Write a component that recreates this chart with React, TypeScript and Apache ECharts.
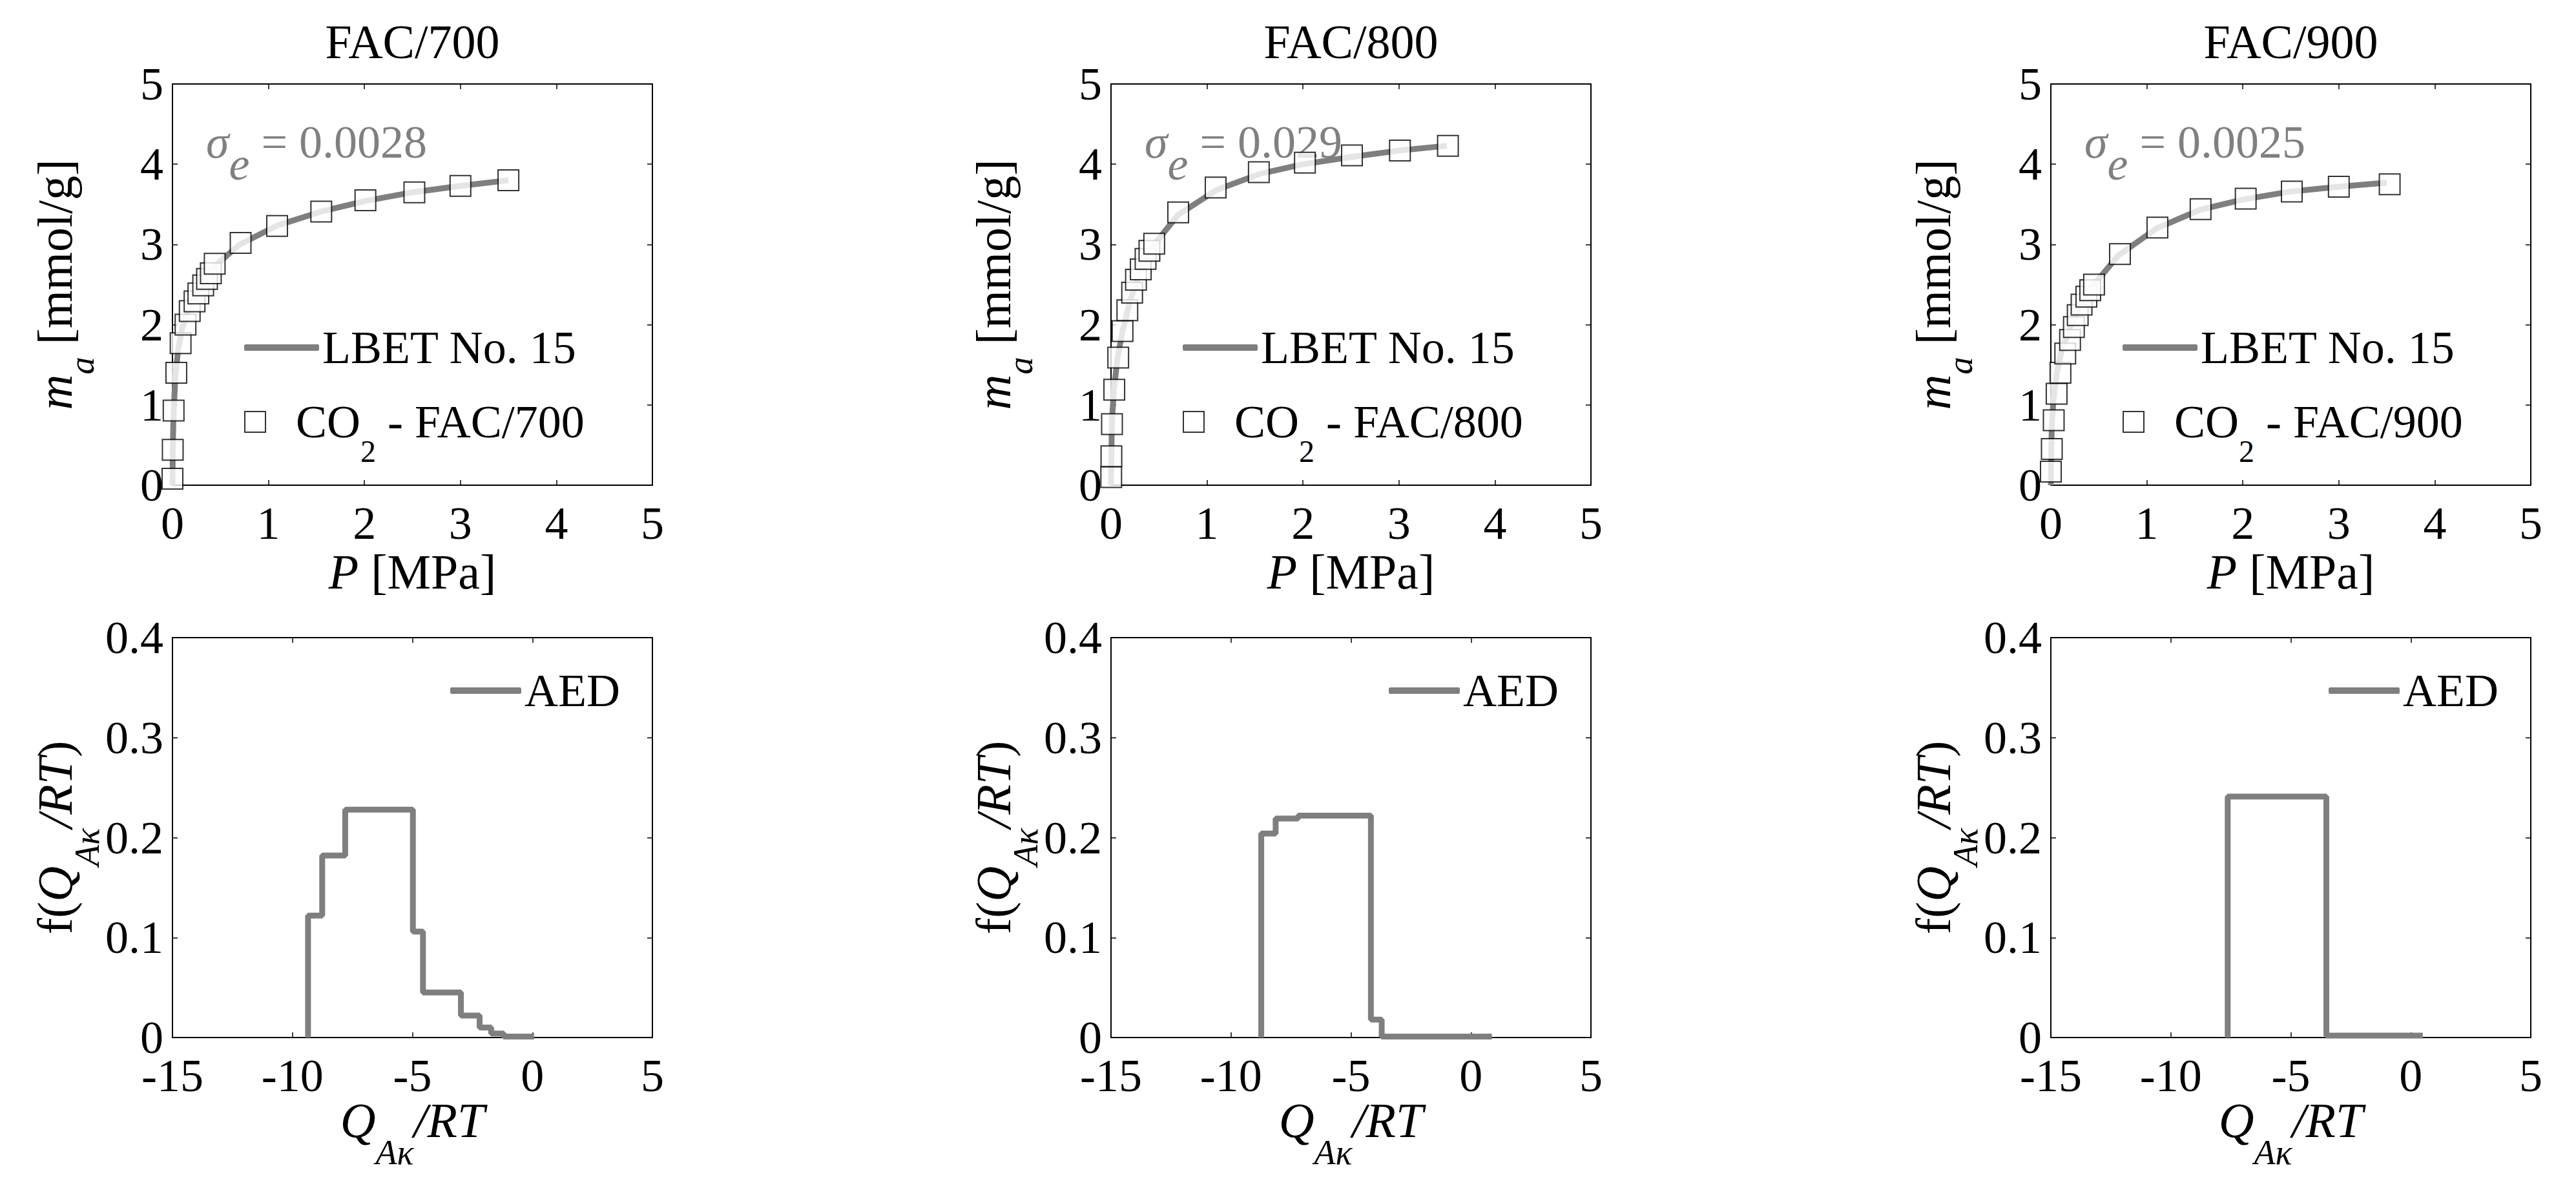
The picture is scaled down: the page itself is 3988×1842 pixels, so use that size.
import { useEffect, useRef } from 'react';
import * as echarts from 'echarts';

const FONT = "'Liberation Serif', 'DejaVu Serif', serif";
const GRAY = '#7f7f7f';
const TEXT_GRAY = '#808080';

// sample names and fit errors
const samples = ['FAC/700', 'FAC/800', 'FAC/900'];
const sigmaLabels = ['0.0028', '0.029', '0.0025'];

// measured CO2 uptake, P [MPa] vs m_a [mmol/g]
const p700 = [0.0, 0.003, 0.012, 0.04, 0.085, 0.136, 0.18, 0.23, 0.27, 0.32, 0.36, 0.4, 0.44, 0.71, 1.09, 1.55, 2.01, 2.52, 3.0, 3.5];
const m700 = [0.08, 0.44, 0.93, 1.4, 1.77, 2.0, 2.17, 2.29, 2.39, 2.49, 2.57, 2.64, 2.76, 3.02, 3.23, 3.41, 3.55, 3.65, 3.73, 3.8];
const p800 = [0.002, 0.004, 0.01, 0.034, 0.075, 0.12, 0.17, 0.22, 0.26, 0.31, 0.36, 0.4, 0.45, 0.7, 1.09, 1.54, 2.02, 2.51, 3.01, 3.51];
const m800 = [0.1, 0.36, 0.76, 1.19, 1.59, 1.92, 2.18, 2.4, 2.56, 2.69, 2.82, 2.92, 3.01, 3.4, 3.71, 3.9, 4.02, 4.11, 4.17, 4.23];
const p900 = [0.0, 0.01, 0.03, 0.06, 0.1, 0.15, 0.2, 0.24, 0.28, 0.32, 0.37, 0.41, 0.45, 0.72, 1.11, 1.56, 2.03, 2.51, 3.0, 3.53];
const m900 = [0.17, 0.45, 0.81, 1.14, 1.4, 1.64, 1.81, 1.97, 2.12, 2.25, 2.35, 2.43, 2.5, 2.88, 3.21, 3.44, 3.57, 3.66, 3.72, 3.75];

// LBET No. 15 fitted curves
const fitP700 = [0, 0.003, 0.01, 0.03, 0.06, 0.1, 0.15, 0.2, 0.3, 0.45, 0.7, 1.1, 1.55, 2.0, 2.5, 3.0, 3.5];
const fitM700 = [0, 0.4, 0.85, 1.35, 1.7, 1.95, 2.13, 2.27, 2.47, 2.74, 3.0, 3.24, 3.41, 3.54, 3.65, 3.73, 3.8];
const fitP800 = [0, 0.003, 0.01, 0.03, 0.07, 0.12, 0.2, 0.3, 0.45, 0.7, 1.1, 1.55, 2.0, 2.5, 3.0, 3.5];
const fitM800 = [0, 0.35, 0.8, 1.2, 1.6, 1.92, 2.3, 2.65, 3.0, 3.37, 3.68, 3.88, 4.0, 4.09, 4.17, 4.23];
const fitP900 = [0, 0.003, 0.01, 0.03, 0.06, 0.1, 0.15, 0.2, 0.3, 0.45, 0.7, 1.1, 1.55, 2.0, 2.5, 3.0, 3.5];
const fitM900 = [0, 0.35, 0.75, 1.1, 1.38, 1.62, 1.8, 1.96, 2.22, 2.5, 2.86, 3.2, 3.43, 3.56, 3.66, 3.72, 3.77];

// adsorption energy distributions: bin edges (Q/RT) and heights
const aedEdges700 = [-9.35, -8.76, -7.8, -4.98, -4.56, -2.98, -2.2, -1.72, -1.2, 0.07];
const aedHeights700 = [0.122, 0.182, 0.228, 0.106, 0.045, 0.022, 0.01, 0.004, 0.001];
const aedEdges800 = [-8.74, -8.14, -7.2, -4.17, -3.72, 0.87];
const aedHeights800 = [0.204, 0.219, 0.222, 0.018, 0.001];
const aedEdges900 = [-7.63, -3.52, 0.5];
const aedHeights900 = [0.241, 0.002];

// axis ticks
const pTicks = [0, 1, 2, 3, 4, 5];
const mTicks = [0, 1, 2, 3, 4, 5];
const qTicks = [-15, -10, -5, 0, 5];
const fTicks = [0, 0.1, 0.2, 0.3, 0.4];

const measured = [
  [p700, m700],
  [p800, m800],
  [p900, m900],
];
const fits = [
  [fitP700, fitM700],
  [fitP800, fitM800],
  [fitP900, fitM900],
];
const aeds = [
  [aedEdges700, aedHeights700],
  [aedEdges800, aedHeights800],
  [aedEdges900, aedHeights900],
];

const gridLefts = [267, 1720, 3175];
const gridWidth = 743;
const SQUARE = 'path://M0 0H10V10H0Z';

const zip = (xs: number[], ys: number[]) => xs.map((x, i) => [x, ys[i]]);

// corners for a step: 'end' line drawn over histogram bins
const stepPoints = (edges: number[], heights: number[]) => {
  const pts: number[][] = [[edges[0], 0]];
  heights.forEach((h, i) => pts.push([edges[i], h]));
  pts.push([edges[edges.length - 1], heights[heights.length - 1]]);
  return pts;
};

const ticksRange = (t: number[]) => ({ min: t[0], max: t[t.length - 1], interval: t[1] - t[0] });

const frameAxis = (gridIndex: number, position: string, ticks: number[]) => ({
  type: 'value',
  gridIndex,
  position,
  ...ticksRange(ticks),
  axisLine: { show: true, onZero: false, lineStyle: { color: '#000', width: 2 } },
  axisTick: { show: true, inside: true, length: 8, lineStyle: { color: '#000', width: 1.5 } },
  axisLabel: { show: false },
  splitLine: { show: false },
});

const labelStyle = (margin: number) => ({
  show: true,
  fontSize: 72,
  lineHeight: 56,
  fontFamily: FONT,
  color: '#000',
  margin,
});

// subscripts are pushed down by top padding
const nameStyle = (shift: number) => ({
  fontSize: 76,
  lineHeight: 76,
  fontFamily: FONT,
  color: '#000',
  rich: {
    i: { fontSize: 76, lineHeight: 76, fontFamily: FONT, fontStyle: 'italic', color: '#000' },
    n: { fontSize: 76, lineHeight: 76, fontFamily: FONT, color: '#000' },
    s: {
      fontSize: 54,
      lineHeight: 76,
      fontFamily: FONT,
      fontStyle: 'italic',
      color: '#000',
      padding: [shift, 0, 0, 0],
    },
  },
});

const axisName = (name: string, gap: number, shift: number) => ({
  name,
  nameLocation: 'middle',
  nameGap: gap,
  nameMoveOverlap: false,
  nameTextStyle: nameStyle(shift),
});

const legendText = {
  fontSize: 72,
  lineHeight: 72,
  fontFamily: FONT,
  color: '#000',
  rich: {
    n: { fontSize: 72, lineHeight: 72, fontFamily: FONT, color: '#000' },
    s: { fontSize: 48, lineHeight: 72, fontFamily: FONT, color: '#000', padding: [90, 0, 0, 0] },
  },
};

export default function App() {
  const chartRef = useRef<HTMLDivElement>(null);

  useEffect(() => {
    if (!chartRef.current) return;
    const chart = echarts.init(chartRef.current, undefined, { renderer: 'svg' });

    const grids: any[] = [];
    const xAxes: any[] = [];
    const yAxes: any[] = [];
    const series: any[] = [];
    const legends: any[] = [];

    samples.forEach((sample, i) => {
      // isotherm panel
      const g = grids.length;
      grids.push({ left: gridLefts[i], top: 130, width: gridWidth, height: 621, outerBoundsMode: 'none' });
      xAxes.push({
        ...frameAxis(g, 'bottom', pTicks),
        axisLabel: labelStyle(31),
        ...axisName('{i|P} [MPa]', 96, 0),
      });
      xAxes.push(frameAxis(g, 'top', pTicks));
      yAxes.push({
        ...frameAxis(g, 'left', mTicks),
        axisLabel: labelStyle(14),
        ...axisName('{i|m}{s|a} [mmol/g]', 144, 84),
      });
      yAxes.push(frameAxis(g, 'right', mTicks));

      const co2Name = `CO2 - ${sample}`;
      series.push({
        name: 'LBET No. 15',
        type: 'line',
        xAxisIndex: 2 * g,
        yAxisIndex: 2 * g,
        symbol: 'none',
        lineStyle: { color: GRAY, width: 9 },
        itemStyle: { color: GRAY },
        z: 2,
        data: zip(fits[i][0], fits[i][1]),
      });
      series.push({
        name: co2Name,
        type: 'scatter',
        xAxisIndex: 2 * g,
        yAxisIndex: 2 * g,
        symbol: 'rect',
        symbolSize: 32,
        itemStyle: { color: '#fff', borderColor: '#000', borderWidth: 2 },
        z: 3,
        data: zip(measured[i][0], measured[i][1]),
      });
      legends.push({
        data: [{ name: 'LBET No. 15', icon: 'roundRect' }],
        left: gridLefts[i] + 111,
        top: 502,
        padding: 0,
        itemWidth: 116,
        itemHeight: 10,
        selectedMode: false,
        formatter: (name: string) => `{n|${name}}`,
        textStyle: legendText,
      });
      legends.push({
        data: [{ name: co2Name, icon: SQUARE }],
        left: gridLefts[i] + 111,
        top: 584,
        padding: 0,
        itemWidth: 116,
        itemHeight: 32,
        symbolKeepAspect: true,
        selectedMode: false,
        formatter: (name: string) => `{n|CO}{s|2}{n|${name.slice(3)}}`,
        textStyle: legendText,
      });
    });

    samples.forEach((_sample, i) => {
      // energy distribution panel
      const g = grids.length;
      grids.push({ left: gridLefts[i], top: 987, width: gridWidth, height: 619, outerBoundsMode: 'none' });
      xAxes.push({
        ...frameAxis(g, 'bottom', qTicks),
        axisLabel: labelStyle(31),
        ...axisName('{i|Q}{s|Aκ}{i|/RT}', 90, 100),
      });
      xAxes.push(frameAxis(g, 'top', qTicks));
      yAxes.push({
        ...frameAxis(g, 'left', fTicks),
        axisLabel: labelStyle(14),
        ...axisName('{n|f(}{i|Q}{s|Aκ}{i|/RT}{n|)}', 144, 100),
      });
      yAxes.push(frameAxis(g, 'right', fTicks));

      series.push({
        name: 'AED',
        type: 'line',
        xAxisIndex: 2 * g,
        yAxisIndex: 2 * g,
        step: 'end',
        symbol: 'none',
        lineStyle: { color: GRAY, width: 9 },
        itemStyle: { color: GRAY },
        data: stepPoints(aeds[i][0], aeds[i][1]),
      });
      legends.push({
        data: [{ name: 'AED', icon: 'roundRect' }],
        left: gridLefts[i] + 430,
        top: 1033,
        padding: 0,
        itemWidth: 110,
        itemHeight: 10,
        selectedMode: false,
        formatter: (name: string) => `{n|${name}}`,
        textStyle: legendText,
      });
    });

    chart.setOption({
      animation: false,
      backgroundColor: '#fff',
      title: samples.map((sample, i) => ({
        text: sample,
        left: gridLefts[i] + gridWidth / 2,
        top: 28,
        textAlign: 'center',
        padding: 0,
        textStyle: { fontSize: 74, lineHeight: 74, fontFamily: FONT, fontWeight: 'normal', color: '#000' },
      })),
      grid: grids,
      xAxis: xAxes,
      yAxis: yAxes,
      legend: legends,
      series,
      graphic: samples.map((_sample, i) => ({
        type: 'text',
        x: gridLefts[i] + 52,
        y: 220,
        style: {
          text: `{g|σ}{e|e}{n| = ${sigmaLabels[i]}}`,
          align: 'left',
          verticalAlign: 'middle',
          fill: TEXT_GRAY,
          rich: {
            g: { fontSize: 72, lineHeight: 72, fontFamily: FONT, fontStyle: 'italic', fill: TEXT_GRAY },
            e: {
              fontSize: 72,
              lineHeight: 72,
              fontFamily: FONT,
              fontStyle: 'italic',
              fill: TEXT_GRAY,
              padding: [68, 0, 0, 0],
            },
            n: { fontSize: 72, lineHeight: 72, fontFamily: FONT, fill: TEXT_GRAY },
          },
        },
      })),
    });

    return () => {
      chart.dispose();
    };
  }, []);

  return (
    <div
      ref={chartRef}
      style={{ position: 'fixed', left: 0, top: 0, width: 3988, height: 1842, background: '#fff' }}
    />
  );
}
